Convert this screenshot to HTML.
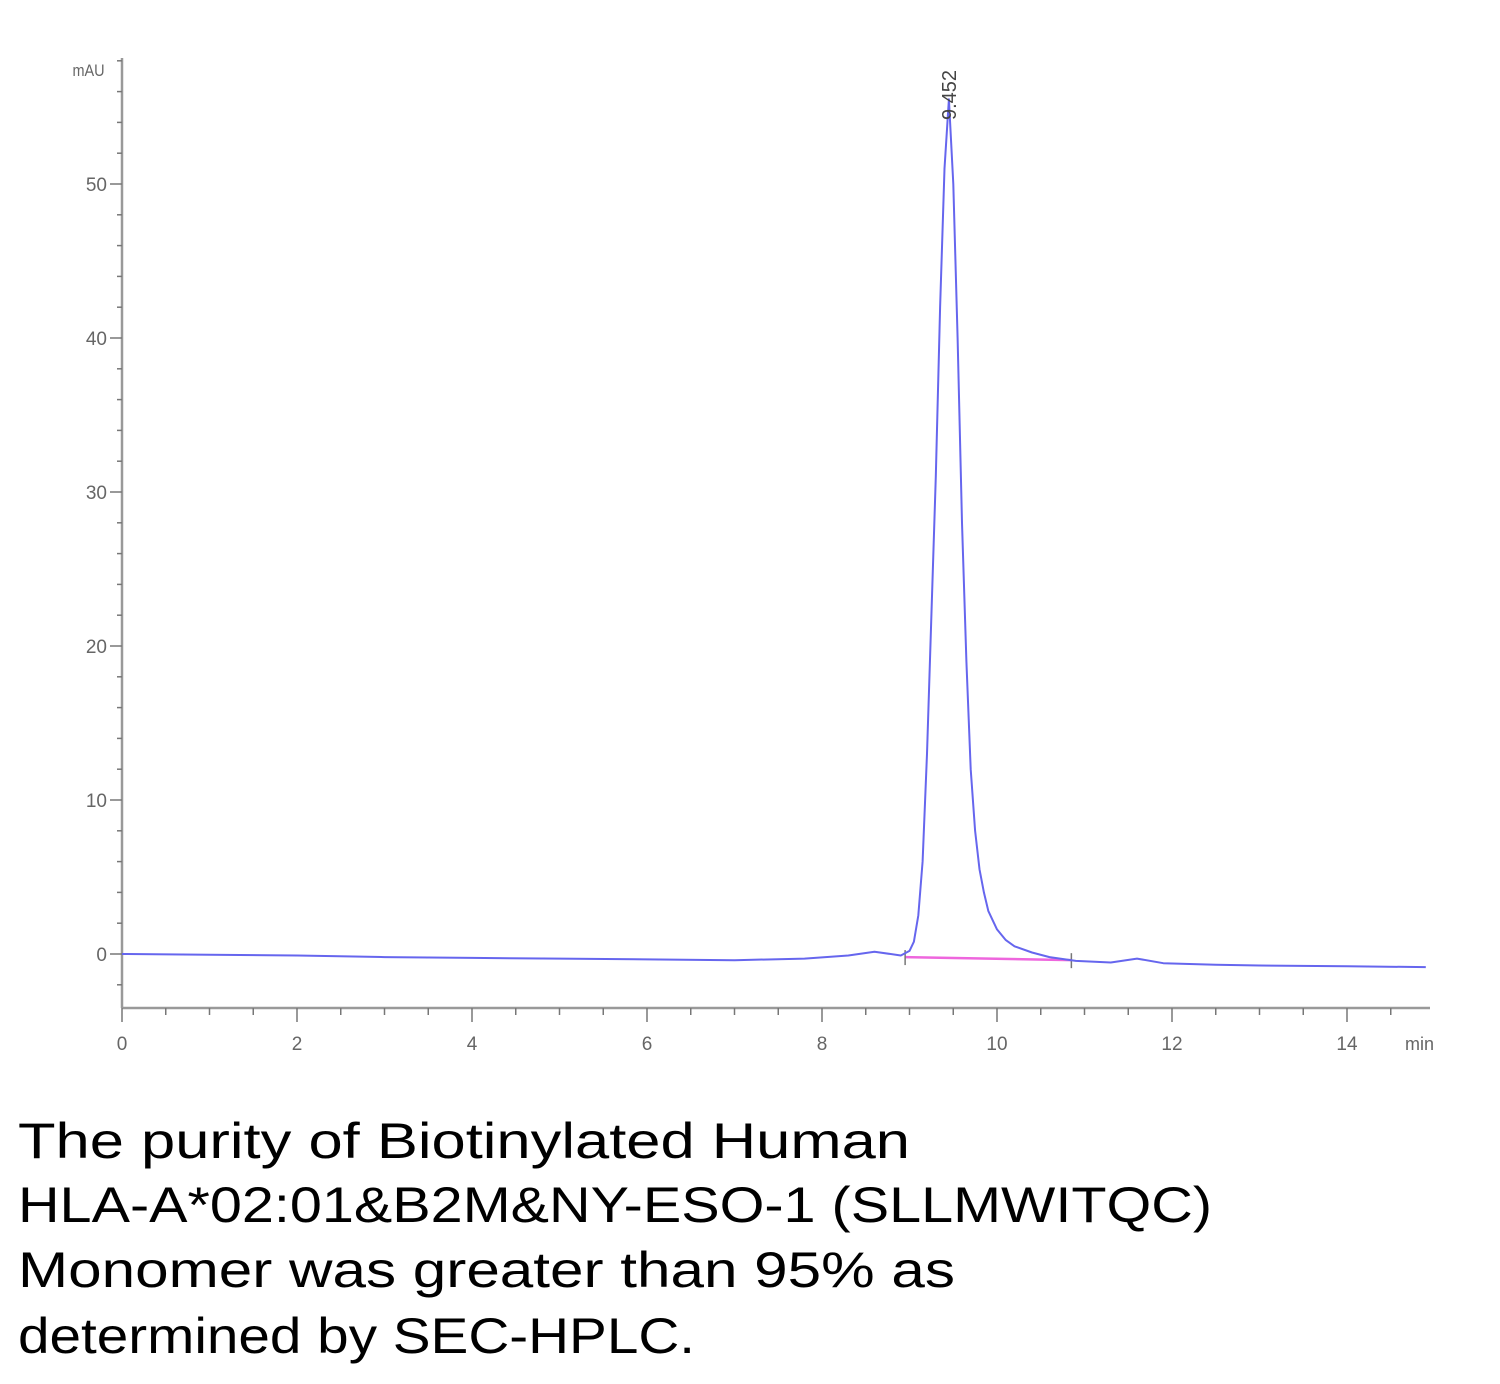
<!DOCTYPE html>
<html><head><meta charset="utf-8"><style>
html,body{margin:0;padding:0;background:#fff;}
svg{display:block;}
</style></head><body>
<svg id="chart" width="1500" height="1384" viewBox="0 0 1500 1384" xmlns="http://www.w3.org/2000/svg">
<g id="axes"></g>
<g id="series"></g>
<text x="105" y="76" text-anchor="end" font-family="Liberation Sans, sans-serif" font-size="17" fill="#666" transform="scale(0.85,1) translate(18,0)">mAU</text>
<text x="1405" y="1050" font-family="Liberation Sans, sans-serif" font-size="18" fill="#666">min</text>
<g font-family="Liberation Sans, sans-serif" font-size="50" fill="#000">
<text x="18" y="1158" textLength="892" lengthAdjust="spacingAndGlyphs">The purity of Biotinylated Human</text>
<text x="18" y="1222" textLength="1194" lengthAdjust="spacingAndGlyphs">HLA-A*02:01&amp;B2M&amp;NY-ESO-1 (SLLMWITQC)</text>
<text x="18" y="1287" textLength="937" lengthAdjust="spacingAndGlyphs">Monomer was greater than 95% as</text>
<text x="18" y="1353" textLength="677" lengthAdjust="spacingAndGlyphs">determined by SEC-HPLC.</text>
</g>
</svg>
<script>
const times = [0,1,2,3,4,5,6,7,7.8,8.3,8.6,8.9,9.0,9.05,9.1,9.15,9.2,9.25,9.3,9.35,9.4,9.45,9.5,9.55,9.6,9.65,9.7,9.75,9.8,9.85,9.9,10.0,10.1,10.2,10.4,10.6,10.9,11.3,11.6,11.9,12.5,13,14,14.9];
const signal = [0,-0.05,-0.1,-0.2,-0.25,-0.3,-0.35,-0.4,-0.3,-0.1,0.15,-0.1,0.2,0.8,2.5,6,13,22,31,42,51,55.5,50,40,28,19,12,8,5.5,4,2.8,1.6,0.9,0.5,0.1,-0.2,-0.45,-0.55,-0.3,-0.6,-0.7,-0.75,-0.8,-0.85];
const peakLabels = ["9.452"];
const peakTimes = [9.452];
const baselineTimes = [8.95,10.85];
const baselineValues = [-0.2,-0.4];
const xTickLabels = ["0","2","4","6","8","10","12","14"];
const yTickLabels = ["0","10","20","30","40","50"];

const X0=122, XS=87.5, Y0=954, YS=15.4;
const xs = t => X0 + t*XS;
const ys = v => Y0 - v*YS;
const NS="http://www.w3.org/2000/svg";
const axes=document.getElementById('axes');
const series=document.getElementById('series');
function mk(tag,attrs,parent){const e=document.createElementNS(NS,tag);for(const k in attrs)e.setAttribute(k,attrs[k]);parent.appendChild(e);return e;}

// axis lines
let yl=mk('line',{x1:X0,y1:58,x2:X0,y2:1008,stroke:'#999','stroke-width':2.5},axes);


let xl=mk('line',{x1:X0,y1:1008,x2:1430,y2:1008,stroke:'#999','stroke-width':2.5},axes);



// y minor ticks every 2
for(let v=-2;v<=58;v+=2){
  const y=ys(v); if(y<58||y>1008) continue;
  const major = v%10===0;
  let t=mk('line',{x1:major?X0-12:X0-5,y1:y,x2:X0,y2:y,stroke:'#777','stroke-width':1.5},axes);
  
  
}
yTickLabels.forEach(l=>{
  let t=mk('text',{x:107,y:ys(+l)+7,'text-anchor':'end','font-family':'Liberation Sans, sans-serif','font-size':19,fill:'#666'},axes);
  
  
  t.textContent=l;
});
// x ticks every 0.5
for(let m=0;m<=30;m++){
  const t0=m*0.5, x=xs(t0); if(x>1430) continue;
  const major = m%4===0;
  let t=mk('line',{x1:x,y1:1008,x2:x,y2:major?1022:1015,stroke:'#777','stroke-width':1.5},axes);
  
  
}
xTickLabels.forEach(l=>{
  let t=mk('text',{x:xs(+l),y:1050,'text-anchor':'middle','font-family':'Liberation Sans, sans-serif','font-size':19,fill:'#666'},axes);
  
  
  t.textContent=l;
});

// baseline (integration)
let bl=mk('line',{x1:xs(baselineTimes[0]),y1:ys(baselineValues[0]),x2:xs(baselineTimes[1]),y2:ys(baselineValues[1]),stroke:'#ee66dd','stroke-width':2.5},series);


baselineTimes.forEach((bt,i)=>{
  const y=ys(baselineValues[i]);
  let m=mk('line',{x1:xs(bt),y1:y-7,x2:xs(bt),y2:y+8,stroke:'#777','stroke-width':1.5},series);
  
  
});

// trace
let d=times.map((t,i)=>(i?'L':'M')+xs(t).toFixed(1)+','+ys(signal[i]).toFixed(1)).join(' ');
let p=mk('path',{d:d,fill:'none',stroke:'#6666ee','stroke-width':2,'stroke-linejoin':'round'},series);



// peak label
peakLabels.forEach((l,i)=>{
  const x=xs(peakTimes[i]);
  let t=mk('text',{x:0,y:0,'font-family':'Liberation Sans, sans-serif','font-size':20,fill:'#444',transform:`translate(${x+7},120) rotate(-90)`},series);
  
  
  t.textContent=l;
});
</script>
</body></html>
